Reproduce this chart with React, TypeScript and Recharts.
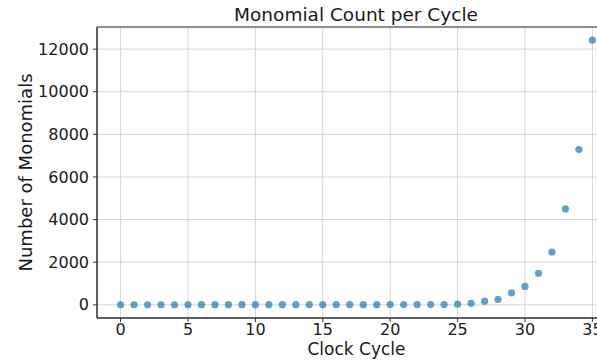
import React from "react";
import {
  ScatterChart,
  Scatter,
  XAxis,
  YAxis,
  CartesianGrid,
  ReferenceArea,
} from "recharts";

const cycles = [
  0, 1, 2, 3, 4, 5, 6, 7, 8, 9, 10, 11, 12, 13, 14, 15, 16, 17, 18, 19, 20,
  21, 22, 23, 24, 25, 26, 27, 28, 29, 30, 31, 32, 33, 34, 35,
];
const monomials = [
  1, 2, 2, 3, 3, 3, 4, 4, 4, 4, 5, 5, 5, 5, 6, 6, 6, 6, 7, 7, 8,
  8, 9, 10, 14, 30, 70, 170, 250, 560, 860, 1480, 2470, 4500, 7290, 12420,
];
const xTicks = [0, 5, 10, 15, 20, 25, 30, 35];
const yTicks = [0, 2000, 4000, 6000, 8000, 10000, 12000];

const data = cycles.map((c, i) => ({ cycle: c, count: monomials[i] }));

const font = "'DejaVu Sans', sans-serif";
const X_DOMAIN: [number, number] = [-1.75, 36.75];
const Y_DOMAIN: [number, number] = [-620, 13040];

export default function App() {
  return (
    <div
      style={{
        position: "absolute",
        left: 0,
        top: 0,
        width: 597,
        height: 361,
        overflow: "hidden",
        background: "#fff",
        fontFamily: font,
      }}
    >
      <div
        style={{
          position: "absolute",
          top: 4,
          left: 356,
          transform: "translateX(-50%)",
          fontSize: 18.5,
          color: "#1a1a1a",
          whiteSpace: "nowrap",
        }}
      >
        Monomial Count per Cycle
      </div>
      <ScatterChart
        width={640}
        height={361}
        margin={{ top: 27, right: 24, bottom: 0, left: 0 }}
        style={{ fontFamily: font }}
      >
        <CartesianGrid stroke="#d0d0d0" strokeWidth={0.9} />
        <XAxis
          type="number"
          dataKey="cycle"
          domain={X_DOMAIN}
          ticks={xTicks}
          allowDataOverflow
          height={43}
          stroke="#333"
          tickSize={4}
          tick={{ fill: "#1a1a1a", fontSize: 16, fontFamily: font }}
          label={{
            value: "Clock Cycle",
            position: "insideBottom",
            offset: 6,
            style: { fontSize: 17, fill: "#1a1a1a", fontFamily: font },
          }}
        />
        <YAxis
          type="number"
          dataKey="count"
          domain={Y_DOMAIN}
          ticks={yTicks}
          allowDataOverflow
          width={97}
          stroke="#333"
          tickSize={4}
          tickMargin={4}
          tick={{ fill: "#1a1a1a", fontSize: 16, fontFamily: font }}
          label={{
            value: "Number of Monomials",
            angle: -90,
            position: "insideLeft",
            offset: 26,
            style: {
              fontSize: 18,
              fill: "#1a1a1a",
              fontFamily: font,
              textAnchor: "middle",
            },
          }}
        />
        <ReferenceArea
          x1={X_DOMAIN[0]}
          x2={X_DOMAIN[1]}
          y1={Y_DOMAIN[0]}
          y2={Y_DOMAIN[1]}
          fill="none"
          fillOpacity={0}
          stroke="#333"
          strokeWidth={1}
        />
        <Scatter
          data={data}
          fill="#1f77b4"
          fillOpacity={0.7}
          isAnimationActive={false}
          shape={(p: any) => (
            <circle cx={p.cx} cy={p.cy} r={3.6} fill="#1f77b4" fillOpacity={0.7} />
          )}
        />
      </ScatterChart>
    </div>
  );
}
